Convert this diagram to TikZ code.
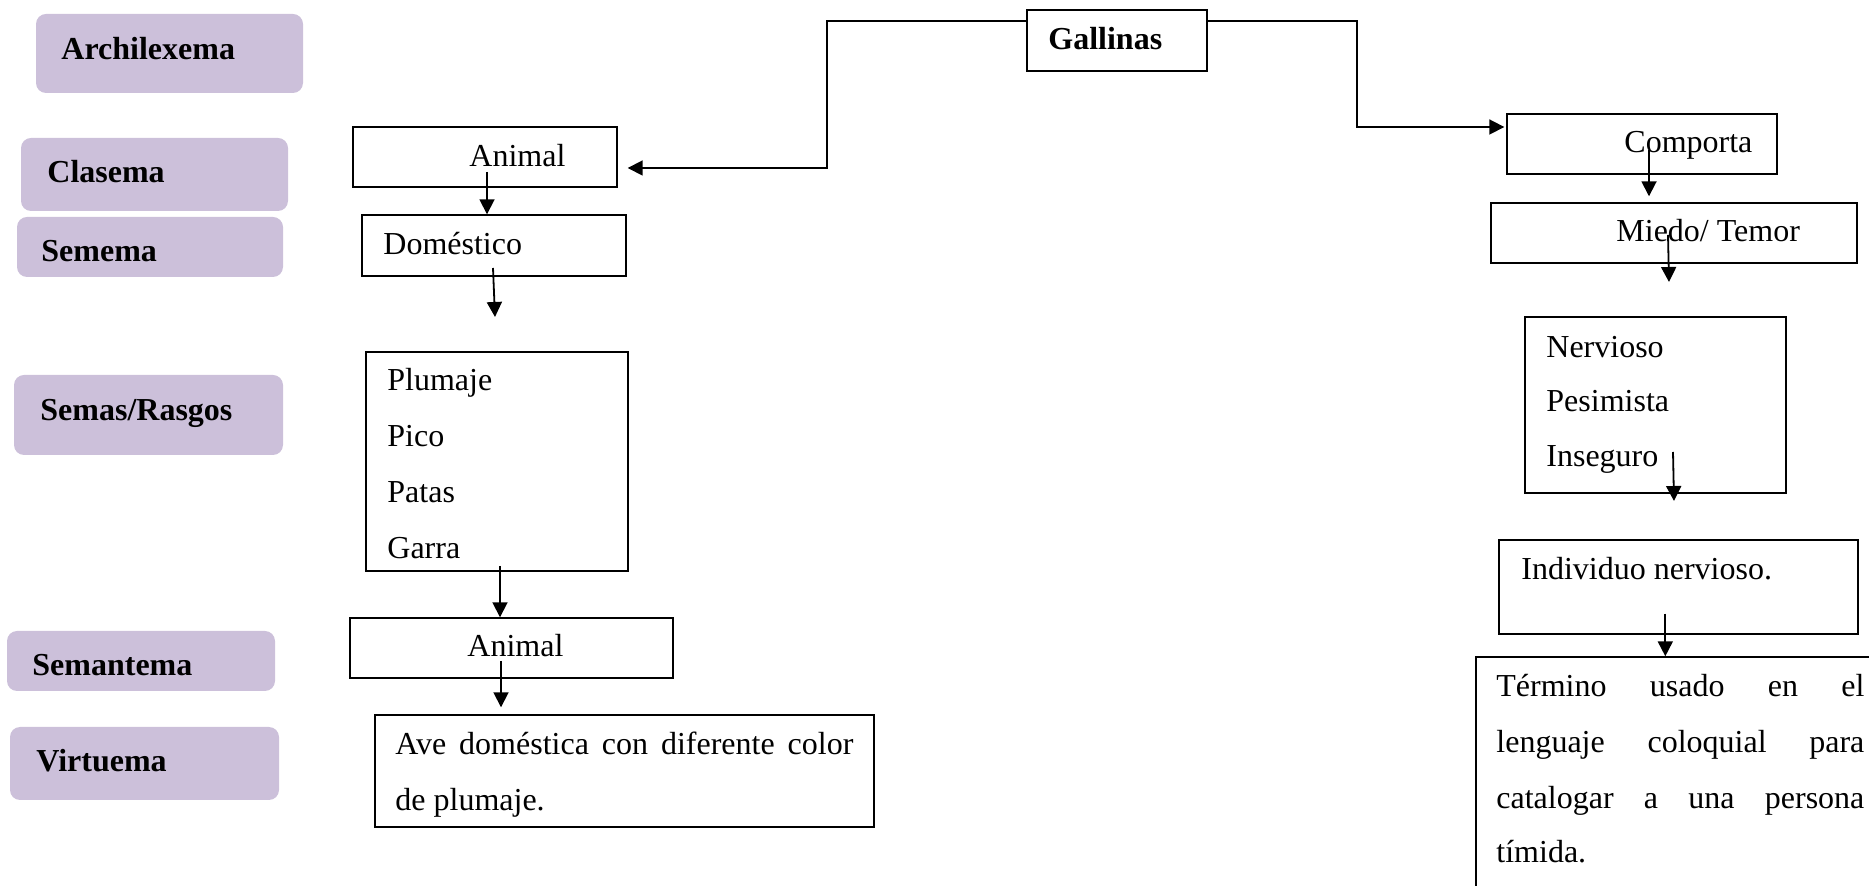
\documentclass[tikz,border=0pt]{standalone}
\usepackage{fontspec}
\setmainfont{Liberation Serif}
\usetikzlibrary{arrows.meta,fit,calc}
\definecolor{lila}{RGB}{204,192,218}
\begin{document}
\begin{tikzpicture}[x=0.5pt,y=-0.5pt,
  font=\fontsize{16}{19}\selectfont,
  box/.style={draw, line width=0.7pt, inner sep=0pt},
  tag/.style={fill=lila, rounded corners=5pt, inner sep=0pt},
  txt/.style={anchor=base west, inner sep=0pt},
  bold/.style={txt, font=\fontsize{16}{19}\selectfont\bfseries},
  arr/.style={line width=0.9pt, -{Triangle[length=7.5pt,width=7.5pt]}}]
\clip (0,0) rectangle (1869,886);

% level tags on the left
\node[tag, fit={(36,14) (303,93)}] (archi) {};
\node[tag, fit={(21,138) (288,211)}] (clas) {};
\node[tag, fit={(17,217) (283,277)}] (seme) {};
\node[tag, fit={(14,375) (283,455)}] (semas) {};
\node[tag, fit={(7,631) (275,691)}] (seman) {};
\node[tag, fit={(10,727) (279,800)}] (virt) {};
\node[bold] (tarchi) at (61,60) {Archilexema};
\node[bold] (tclas) at (47,183) {Clasema};
\node[bold] (tseme) at (41,262) {Semema};
\node[bold] (tsemas) at (40,421) {Semas/Rasgos};
\node[bold] (tseman) at (32,676) {Semantema};
\node[bold] (tvirt) at (36,772) {Virtuema};

% root
\node[box, fit={(1027,10) (1207,71)}] (gal) {};
\node[bold] (tgal) at (1048,50) {Gallinas};

% left branch
\node[box, fit={(353,127) (617,187)}] (anim1) {};
\node[txt] (tanim1) at (469,167) {Animal};
\node[box, fit={(362,215) (626,276)}] (dom) {};
\node[txt] (tdom) at (383,255) {Doméstico};
\node[box, fit={(366,352) (628,571)}] (plum) {};
\node[txt] (tplum) at (387,391) {Plumaje};
\node[txt] (tpico) at (387,447) {Pico};
\node[txt] (tpatas) at (387,503) {Patas};
\node[txt] (tgarra) at (387,559) {Garra};
\node[box, fit={(350,618) (673,678)}] (anim2) {};
\node[txt] (tanim2) at (467,657) {Animal};
\node[box, fit={(375,715) (874,827)}] (ave) {};
\node[txt] (tave1) at (395,755) {\makebox[229pt][s]{Ave doméstica con diferente color}};
\node[txt] (tave2) at (395,811) {de plumaje.};

% right branch
\node[box, fit={(1507,114) (1777,174)}] (comp) {};
\node[txt] (tcomp) at (1624,153) {Comporta};
\node[box, fit={(1491,203) (1857,263)}] (miedo) {};
\node[txt] (tmiedo) at (1616,242) {Miedo/ Temor};
\node[box, fit={(1525,317) (1786,493)}] (nerv) {};
\node[txt] (tnerv) at (1546,358) {Nervioso};
\node[txt] (tpes) at (1546,412) {Pesimista};
\node[txt] (tins) at (1546,467) {Inseguro};
\node[box, fit={(1499,540) (1858,634)}] (indiv) {};
\node[txt] (tindiv) at (1521,580) {Individuo nervioso.};
\node[box, fit={(1476,657) (1900,920)}] (term) {};
\node[txt] (tterm1) at (1496,697) {\makebox[184pt][s]{Término usado en el}};
\node[txt] (tterm2) at (1496,753) {\makebox[184pt][s]{lenguaje coloquial para}};
\node[txt] (tterm3) at (1496,809) {\makebox[184pt][s]{catalogar a una persona}};
\node[txt] (tterm4) at (1496,863) {tímida.};

% connectors from the root
\coordinate (lbend) at (827,21);
\coordinate (rbend) at (1357,21);
\draw[arr] (lbend -| gal.west) -- (lbend) |- ([shift={(10,11)}]anim1.east);
\draw[arr] (rbend -| gal.east) -- (rbend) |- ([shift={(-2,-17)}]comp.west);

% left chain
\draw[arr] ([shift={(18,5)}]tanim1.base west) coordinate (s1) -- (s1 |- dom.north);
\draw[arr] ([shift={(110,13)}]tdom.base west) -- ++(2,49);
\draw[arr] ([shift={(113,7)}]tgarra.base west) coordinate (s3) -- (s3 |- anim2.north);
\draw[arr] ([shift={(34,4)}]tanim2.base west) coordinate (s4) -- ([yshift=3.5pt]s4 |- ave.north);

% right chain
\draw[arr] ([shift={(25,-3)}]tcomp.base west) coordinate (s5) -- ([yshift=3pt]s5 |- miedo.north);
\draw[arr] ([shift={(52,-7)}]tmiedo.base west) -- ++(1,47);
\draw[arr] ([shift={(127,-15)}]tins.base west) -- ++(1,49);
\draw[arr] ([shift={(167,-21)}]indiv.south west) coordinate (s8) -- (s8 |- term.north);
\end{tikzpicture}
\end{document}
